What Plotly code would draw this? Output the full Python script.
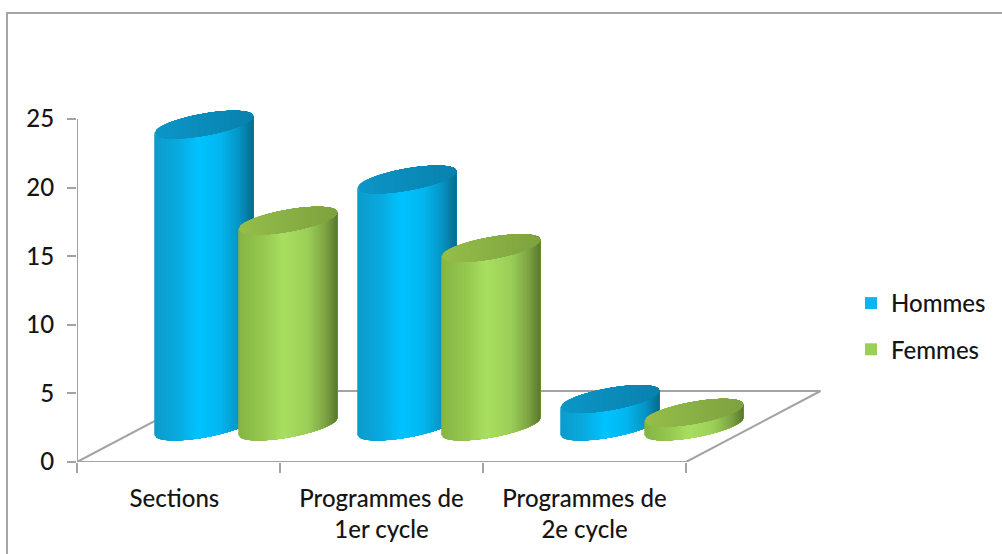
import numpy as np
import plotly.graph_objects as go

# --- data ---
categories = ["Sections", "Programmes de<br>1er cycle", "Programmes de<br>2e cycle"]
hommes = [22, 18, 2]
femmes = [15, 13, 1]
value_ticks = [0, 5, 10, 15, 20, 25]
value_top = 25

# --- layout geometry (page pixels) ---
W, H = 1002, 554
PX_L, PX_R, PX_T, PX_B = 77, 860, 90, 462
PX_CAT = 203.0
PX_VAL = 343.0 / value_top
Y_MAX = (PX_B - PX_T) / PX_VAL
DEPTH_X = 134.5 / PX_CAT        # floor depth, in category units
DEPTH_Y = 71.0 / PX_VAL         # floor depth, in value units
RX = 49.5 / PX_CAT
RY = 11.1 / PX_VAL
TILT = 8.5 / PX_VAL
GROUP_OFFSET = 42.0 / PX_CAT
LABEL_NUDGE = [-0.02, 0, 0]
N = 60
AXIS = "#a3a3a3"


def hex2rgb(h):
    return np.array([int(h[i:i + 2], 16) for i in (1, 3, 5)], float)


def ramp(stops, u):
    xs = [s[0] for s in stops]
    return "rgb(%d,%d,%d)" % tuple(
        np.interp(u, xs, [hex2rgb(s[1])[k] for s in stops]) for k in range(3))


BLUE_SIDE = [(-1, "#0D9CCB"), (-0.55, "#0AA9DE"), (-0.1, "#00C3FF"), (0.35, "#04B5EE"), (0.72, "#0694C4"), (1, "#066C90")]
BLUE_TOP = [(-1, "#0C97C8"), (1, "#0A82AE")]
GREEN_SIDE = [(-1, "#86B444"), (-0.5, "#96C850"), (-0.1, "#A9DF61"), (0.4, "#9CCF58"), (0.75, "#7FA545"), (1, "#587A2E")]
GREEN_TOP = [(-1, "#95BF4B"), (1, "#7EA23F")]

fig = go.Figure()


def strip(xs, ys, color):
    fig.add_trace(go.Scatter(x=xs, y=ys, mode="lines", fill="toself", fillcolor=color,
                             line=dict(color=color, width=0), showlegend=False, hoverinfo="skip"))


def cylinder(cx, value, side, top):
    base = DEPTH_Y / 2
    edges = np.linspace(-1, 1, N + 1)[:-1]
    step = 2 / N
    for part, stops in (("side", side), ("top", top)):
        # each band runs to the right edge; the next band paints over it, so no seams show
        for a in edges:
            uu = np.linspace(a, 1, 40)
            t = np.arccos(uu)
            x = cx + RX * uu
            lower = -RY * np.sin(t) + TILT * uu
            upper = RY * np.sin(t) + TILT * uu
            if part == "side":
                ys = np.r_[base + lower, (base + value + lower)[::-1]]
            else:
                ys = np.r_[base + value + lower, (base + value + upper)[::-1]]
            strip(np.r_[x, x[::-1]], ys, ramp(stops, a + step / 2))


n_cat = len(categories)
# floor outline
fig.add_trace(go.Scatter(
    x=[0, n_cat, n_cat + DEPTH_X, DEPTH_X, 0],
    y=[0, 0, DEPTH_Y, DEPTH_Y, 0],
    mode="lines", line=dict(color=AXIS, width=2), showlegend=False, hoverinfo="skip", cliponaxis=False))
# value axis line
fig.add_trace(go.Scatter(x=[0, 0], y=[0, value_top], mode="lines", line=dict(color=AXIS, width=2),
                         showlegend=False, hoverinfo="skip", cliponaxis=False))

for i in range(n_cat):
    centre = i + 0.5 + DEPTH_X / 2
    cylinder(centre - GROUP_OFFSET, hommes[i], BLUE_SIDE, BLUE_TOP)
    cylinder(centre + GROUP_OFFSET, femmes[i], GREEN_SIDE, GREEN_TOP)

# legend entries
for name, col, grp in [("Hommes", "#0CB5EE", "a"), ("Femmes", "#9BCF58", "b")]:
    fig.add_trace(go.Scatter(x=[None], y=[None], mode="markers", name=name, legendgroup=grp,
                             marker=dict(symbol="square", size=14, color=col)))

TEXT = dict(family="Lato, Open Sans, sans-serif", color="#151515", weight=500)
fig.update_layout(
    width=W, height=H,
    margin=dict(l=PX_L, r=W - PX_R, t=PX_T, b=H - PX_B, autoexpand=False),
    paper_bgcolor="white", plot_bgcolor="white",
    font=dict(size=24, **TEXT),
    xaxis=dict(range=[0, (PX_R - PX_L) / PX_CAT], showgrid=False, zeroline=False, showline=False,
               tickmode="array", tickvals=[i + 0.5 + LABEL_NUDGE[i] for i in range(n_cat)], ticktext=categories,
               ticks="", tickangle=0, ticklabelstandoff=20, tickfont=dict(size=24, **TEXT),
               minor=dict(tickmode="array", tickvals=list(range(n_cat + 1)), ticks="outside",
                          ticklen=10, tickwidth=2, tickcolor=AXIS, showgrid=False)),
    yaxis=dict(range=[0, Y_MAX], showgrid=False, zeroline=False, showline=False,
               tickmode="array", tickvals=value_ticks, ticks="outside", ticklen=9, tickwidth=2,
               tickcolor=AXIS, ticklabelstandoff=8, tickfont=dict(size=24, **TEXT)),
    legend=dict(x=(851 - PX_L) / (PX_R - PX_L), y=(PX_B - 281) / (PX_B - PX_T),
                xanchor="left", yanchor="top",
                tracegroupgap=12, itemsizing="constant", font=dict(size=24, **TEXT),
                bgcolor="rgba(0,0,0,0)", itemwidth=30),
)
fig.update_layout(shapes=[dict(type="path", xref="paper", yref="paper",
                               path="M {x0},{y0} L {x0},{y1} L {x1},{y1}".format(
                                   x0=(7 - PX_L) / (PX_R - PX_L), x1=(1002 - PX_L) / (PX_R - PX_L),
                                   y0=(PX_B - 554) / (PX_B - PX_T), y1=(PX_B - 13) / (PX_B - PX_T)),
                               line=dict(color="#a6a6a6", width=2), layer="below")])

fig.write_html("out.html", config=dict(displayModeBar=False),
               post_script="document.body.style.margin='0';")
